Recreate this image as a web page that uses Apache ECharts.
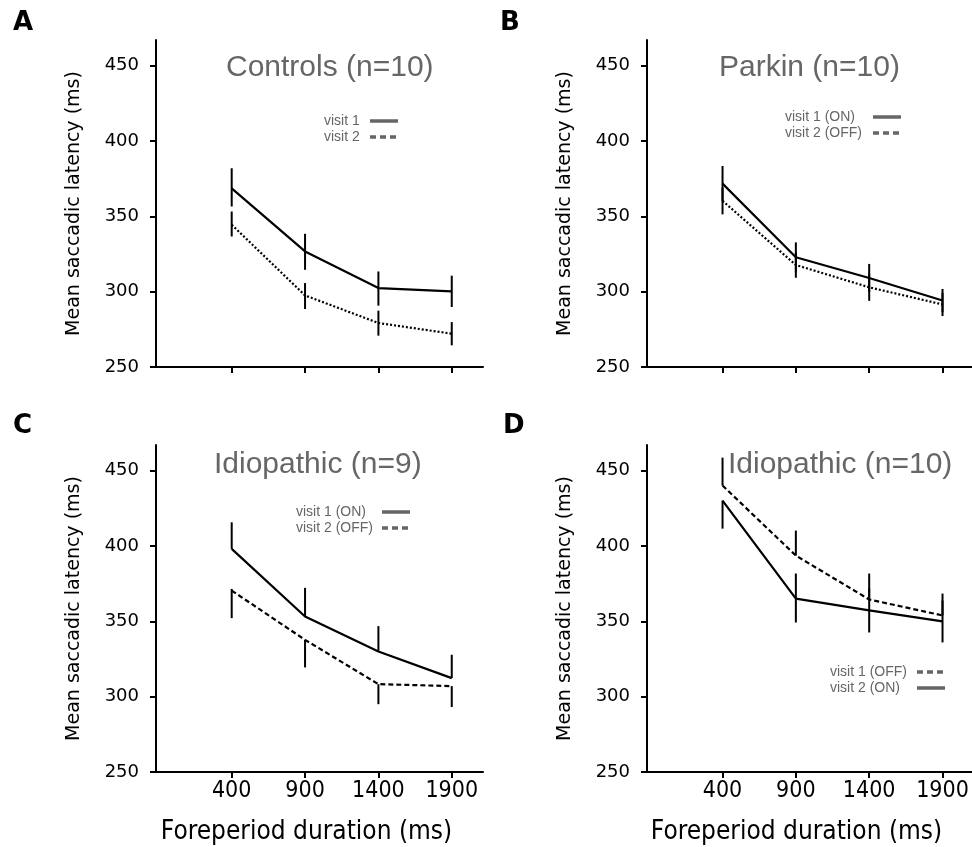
<!DOCTYPE html>
<html>
<head>
<meta charset="utf-8">
<script src="https://cdn.jsdelivr.net/npm/echarts@6/dist/echarts.min.js"></script>
<style>html,body{margin:0;padding:0;background:#fff}#chart{width:972px;height:847px}</style>
</head>
<body>
<div id="chart"></div>
<script>
var durations = [400, 900, 1400, 1900];
var yTicks = [250, 300, 350, 400, 450];

// A - Controls (n=10)
var ctrlV1 = [368.5, 326.7, 302.4, 300.2];
var ctrlV1Lo = [356.5, 314.5, 290.7, 289.8];
var ctrlV1Hi = [381.9, 338.4, 313.4, 310.6];
var ctrlV2 = [344.4, 297.5, 279.2, 272.1];
var ctrlV2Lo = [336.6, 288.5, 270.8, 264.4];
var ctrlV2Hi = [353.2, 305.7, 287.4, 279.8];

// B - Parkin (n=10)
var parkV1 = [371.7, 322.8, 309.1, 294.1];
var parkV1Lo = [360.0, 312.8, 299.8, 286.4];
var parkV1Hi = [383.4, 332.7, 318.4, 301.8];
var parkV2 = [360.3, 317.7, 302.9, 291.5];
var parkV2Lo = [351.3, 309.2, 293.9, 283.8];
var parkV2Hi = [369.0, 326.0, 311.9, 299.2];

// C - Idiopathic (n=9)
var idio9V1 = [398.1, 353.2, 330.0, 312.3];
var idio9V1Lo = [398.1, 353.2, 330.0, 312.3];
var idio9V1Hi = [415.7, 372.2, 346.8, 327.8];
var idio9V2 = [370.4, 337.7, 308.3, 307.0];
var idio9V2Lo = [352.1, 319.4, 295.0, 293.1];
var idio9V2Hi = [371.5, 337.7, 308.3, 307.0];

// D - Idiopathic (n=10)
var idio10V1 = [440.1, 393.6, 364.5, 353.9];
var idio10V1Lo = [440.1, 393.6, 364.5, 353.9];
var idio10V1Hi = [458.6, 410.2, 381.7, 368.4];
var idio10V2 = [430.1, 365.1, 357.2, 349.9];
var idio10V2Lo = [411.5, 349.2, 342.6, 336.0];
var idio10V2Hi = [430.1, 381.7, 371.8, 363.8];

var chart = echarts.init(document.getElementById('chart'));

var grids = [
  {left: 156, top: 40, width: 327, height: 327},
  {left: 647, top: 40, width: 325, height: 327},
  {left: 156, top: 445, width: 327, height: 327},
  {left: 647, top: 445, width: 325, height: 327}
];
var xRanges = [[-116, 2113], [-115, 2101], [-116, 2113], [-115, 2101]];
var narrow = "'Liberation Sans Narrow', 'DejaVu Sans Condensed', sans-serif";

function pairs(vals) {
  return durations.map(function (d, i) { return [d, vals[i]]; });
}
function bars(lo, hi) {
  return durations.map(function (d, i) { return [d, lo[i], hi[i]]; });
}

function lineSeries(name, idx, vals, type) {
  return {
    type: 'line', name: name, xAxisIndex: idx, yAxisIndex: idx,
    data: pairs(vals), symbol: 'none', silent: true, z: 3,
    itemStyle: {color: '#000'},
    lineStyle: {color: '#000', width: 2.2, type: type}
  };
}
function errSeries(name, idx, lo, hi) {
  return {
    type: 'custom', name: name + ' err', xAxisIndex: idx, yAxisIndex: idx,
    data: bars(lo, hi), encode: {x: 0, y: [1, 2]}, silent: true, z: 4,
    renderItem: function (params, api) {
      var a = api.coord([api.value(0), api.value(1)]);
      var b = api.coord([api.value(0), api.value(2)]);
      return {type: 'line', shape: {x1: a[0], y1: a[1], x2: b[0], y2: b[1]},
        style: {stroke: '#000', lineWidth: 2}};
    }
  };
}

var xAxes = grids.map(function (g, i) {
  var bottom = i >= 2;
  return {
    type: 'value', gridIndex: i, min: xRanges[i][0], max: xRanges[i][1],
    name: bottom ? 'Foreperiod duration (ms)' : '',
    nameLocation: 'middle', nameGap: 47,
    nameTextStyle: {fontFamily: narrow, fontSize: 26, color: '#000', padding: [0, 26, 0, 0]},
    splitLine: {show: false},
    axisLine: {onZero: false, lineStyle: {color: '#000', width: 2}},
    axisTick: {customValues: durations, length: 6, lineStyle: {color: '#000', width: 2}},
    axisLabel: {show: bottom, customValues: durations, margin: 8, color: '#000',
      fontFamily: narrow, fontSize: 23,
      formatter: function (v) { return String(v); }}
  };
});
var yAxes = grids.map(function (g, i) {
  return {
    type: 'value', gridIndex: i, min: 250, max: 467,
    name: 'Mean saccadic latency (ms)', nameLocation: 'middle', nameGap: 72,
    nameTextStyle: {fontFamily: 'DejaVu Sans', fontSize: 19, color: '#000'},
    splitLine: {show: false},
    axisLine: {onZero: false, lineStyle: {color: '#000', width: 2}},
    axisTick: {customValues: yTicks, length: 6, lineStyle: {color: '#000', width: 2}},
    axisLabel: {customValues: yTicks, margin: 17, color: '#000', fontFamily: 'DejaVu Sans', fontSize: 18,
      formatter: function (v) { return String(v); }}
  };
});

var letterStyle = {fontFamily: 'DejaVu Sans', fontWeight: 'bold', fontSize: 26, color: '#000'};
var headStyle = {fontFamily: 'Liberation Sans', fontWeight: 'normal', fontSize: 30, color: '#666'};
var titles = [
  {text: 'A', left: 13, top: 10, padding: 0, textStyle: letterStyle},
  {text: 'B', left: 500, top: 10, padding: 0, textStyle: letterStyle},
  {text: 'C', left: 13, top: 413, padding: 0, textStyle: letterStyle},
  {text: 'D', left: 503, top: 413, padding: 0, textStyle: letterStyle},
  {text: 'Controls (n=10)', left: 226, top: 53, padding: 0, textStyle: headStyle},
  {text: 'Parkin (n=10)', left: 719, top: 53, padding: 0, textStyle: headStyle},
  {text: 'Idiopathic (n=9)', left: 214, top: 450, padding: 0, textStyle: headStyle},
  {text: 'Idiopathic (n=10)', left: 728, top: 450, padding: 0, textStyle: headStyle}
];

var noMark = {opacity: 0, color: 'transparent', borderWidth: 0};
var solidKey = {color: '#666', width: 3.5, type: 'solid'};
var dashKey = {color: '#666', width: 3.5, type: [6, 4]};
function key(name, style) {
  return {name: name, lineStyle: style, itemStyle: noMark, icon: 'inherit'};
}
function legend(left, top, textW, items) {
  return {
    orient: 'vertical', left: left, top: top, padding: 0, align: 'right',
    itemWidth: 28, itemHeight: 14, itemGap: 2, selectedMode: false,
    formatter: '{t|{name}}',
    textStyle: {color: '#666', fontFamily: 'Liberation Sans', fontSize: 14,
      rich: {t: {width: textW, align: 'left', color: '#666', fontFamily: 'Liberation Sans', fontSize: 14, lineHeight: 14}}},
    data: items
  };
}
var legends = [
  legend(324, 114, 41, [key('visit 1', solidKey), key('visit 2', dashKey)]),
  legend(785, 110, 83, [key('visit 1 (ON)', solidKey), key('visit 2 (OFF)', dashKey)]),
  legend(296, 505, 81, [key('visit 1 (ON)', solidKey), key('visit 2 (OFF)', dashKey)]),
  legend(830, 665, 82, [key('visit 1 (OFF)', dashKey), key('visit 2 (ON)', solidKey)])
];

var series = [
  lineSeries('visit 1', 0, ctrlV1, 'solid'),
  lineSeries('visit 2', 0, ctrlV2, [2, 2]),
  errSeries('visit 1', 0, ctrlV1Lo, ctrlV1Hi),
  errSeries('visit 2', 0, ctrlV2Lo, ctrlV2Hi),
  lineSeries('visit 1 (ON)', 1, parkV1, 'solid'),
  lineSeries('visit 2 (OFF)', 1, parkV2, [2, 2]),
  errSeries('visit 1 (ON)', 1, parkV1Lo, parkV1Hi),
  errSeries('visit 2 (OFF)', 1, parkV2Lo, parkV2Hi),
  lineSeries('visit 1 (ON)', 2, idio9V1, 'solid'),
  lineSeries('visit 2 (OFF)', 2, idio9V2, [5, 3]),
  errSeries('visit 1 (ON)', 2, idio9V1Lo, idio9V1Hi),
  errSeries('visit 2 (OFF)', 2, idio9V2Lo, idio9V2Hi),
  lineSeries('visit 1 (OFF)', 3, idio10V1, [5, 3]),
  lineSeries('visit 2 (ON)', 3, idio10V2, 'solid'),
  errSeries('visit 1 (OFF)', 3, idio10V1Lo, idio10V1Hi),
  errSeries('visit 2 (ON)', 3, idio10V2Lo, idio10V2Hi)
];

chart.setOption({
  backgroundColor: '#fff',
  animation: false,
  title: titles,
  legend: legends,
  grid: grids,
  xAxis: xAxes,
  yAxis: yAxes,
  series: series
});
</script>
</body>
</html>
